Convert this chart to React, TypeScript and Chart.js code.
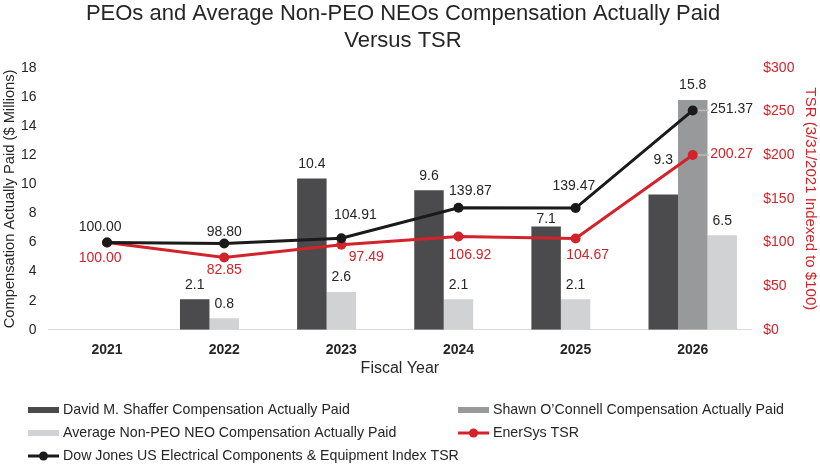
import React, { useEffect, useRef } from 'react';
import { Chart, registerables } from 'chart.js';

Chart.register(...registerables);

// ---- data ----
const fiscalYears = ['2021', '2022', '2023', '2024', '2025', '2026'];
const shafferCap = [null, 2.1, 10.4, 9.6, 7.1, 9.3];
const oconnellCap = [null, null, null, null, null, 15.8];
const neoAverageCap = [null, 0.8, 2.6, 2.1, 2.1, 6.5];
const enersysTsr = [100.0, 82.85, 97.49, 106.92, 104.67, 200.27];
const dowJonesTsr = [100.0, 98.8, 104.91, 139.87, 139.47, 251.37];
const tsrTickPrefix = '$';
const chartTitle = ['PEOs and Average Non-PEO NEOs Compensation Actually Paid', 'Versus TSR'];

// ---- label placement (style only) ----
const shafferLabelShift = [0, 0, 0, 0, 7.5, -19.5];
const dowLabelShift: ([number, number] | null)[] = [[-7, -15], [0, -11], [14, -23.6], [12, -16.7], [-1.7, -21.7], null];
const enersysLabelShift: ([number, number] | null)[] = [[-7, 15.6], [0, 12.3], [25, 12.3], [11.5, 18.6], [12, 16.3], null];

const TEXT = '#262626';
const RED = '#d2232a';
const BLACK = '#1a1a1a';
const DARK = '#4b4b4d';
const MID = '#98999b';
const LIGHT = '#d1d2d4';
const FONT = "'Liberation Sans', Arial, sans-serif";

const legendEntries = [
  { label: 'David M. Shaffer Compensation Actually Paid', kind: 'bar', color: DARK },
  { label: 'Shawn O\u2019Connell Compensation Actually Paid', kind: 'bar', color: MID },
  { label: 'Average Non-PEO NEO Compensation Actually Paid', kind: 'bar', color: LIGHT },
  { label: 'EnerSys TSR', kind: 'line', color: RED },
  { label: 'Dow Jones US Electrical Components & Equipment Index TSR', kind: 'line', color: BLACK },
];

const titlePlugin = {
  id: 'customTitle',
  afterDraw(chart: any) {
    const ctx = chart.ctx;
    ctx.save();
    ctx.font = `22px ${FONT}`;
    ctx.fillStyle = TEXT;
    ctx.textAlign = 'center';
    ctx.textBaseline = 'middle';
    chartTitle.forEach((line, i) => {
      ctx.fillText(line, 403, 14.2 + i * 26.4);
    });
    ctx.restore();
  },
};

const valueLabels = {
  id: 'valueLabels',
  afterDatasetsDraw(chart: any) {
    const ctx = chart.ctx;
    ctx.save();
    ctx.font = `14px ${FONT}`;
    ctx.textBaseline = 'middle';
    chart.data.datasets.forEach((ds: any, di: number) => {
      const meta = chart.getDatasetMeta(di);
      meta.data.forEach((el: any, i: number) => {
        const v = ds.data[i];
        if (v === null || v === undefined) return;
        if (ds.type === 'line') {
          const shifts = ds.labelKey === 'dow' ? dowLabelShift : enersysLabelShift;
          const s = shifts[i];
          ctx.fillStyle = ds.labelColor;
          const txt = v.toFixed(2);
          if (s) {
            ctx.textAlign = 'center';
            ctx.fillText(txt, el.x + s[0], el.y + s[1]);
          } else {
            ctx.strokeStyle = '#bdbdbd';
            ctx.lineWidth = 1.5;
            ctx.beginPath();
            ctx.moveTo(el.x + 5, el.y);
            ctx.lineTo(el.x + 16, el.y);
            ctx.stroke();
            ctx.textAlign = 'left';
            ctx.fillText(txt, el.x + 17.5, el.y - 1);
          }
        } else {
          const dy = ds.labelKey === 'shaffer' ? shafferLabelShift[i] : 0;
          ctx.fillStyle = TEXT;
          ctx.textAlign = 'center';
          ctx.fillText(v.toFixed(1), el.x, el.y - 14.5 + dy);
        }
      });
    });
    ctx.restore();
  },
};

const customLegend = {
  id: 'customLegend',
  afterDraw(chart: any) {
    const ctx = chart.ctx;
    const cols = [28, 458];
    const rows = [410, 433, 456];
    ctx.save();
    ctx.font = `14.2px ${FONT}`;
    ctx.textBaseline = 'middle';
    ctx.textAlign = 'left';
    legendEntries.forEach((e, i) => {
      const x = cols[i % 2];
      const y = rows[Math.floor(i / 2)];
      if (e.kind === 'bar') {
        ctx.fillStyle = e.color;
        ctx.fillRect(x, y - 3, 31, 6);
      } else {
        ctx.strokeStyle = e.color;
        ctx.lineWidth = 3;
        ctx.beginPath();
        ctx.moveTo(x, y);
        ctx.lineTo(x + 31, y);
        ctx.stroke();
        ctx.fillStyle = e.color;
        ctx.beginPath();
        ctx.arc(x + 15.5, y, 4.5, 0, Math.PI * 2);
        ctx.fill();
      }
      ctx.fillStyle = TEXT;
      ctx.fillText(e.label, x + 35, y);
    });
    ctx.restore();
  },
};

export default function App() {
  const ref = useRef<HTMLCanvasElement | null>(null);

  useEffect(() => {
    document.body.style.margin = '0';
    Chart.defaults.font.family = FONT;
    const neoMiddle = neoAverageCap.map((v, i) => (oconnellCap[i] === null ? v : null));
    const neoRight = neoAverageCap.map((v, i) => (oconnellCap[i] !== null ? v : null));
    const barCommon = {
      type: 'bar' as const,
      yAxisID: 'y',
      categoryPercentage: 0.755,
      barPercentage: 1.0,
      order: 3,
    };
    const chart = new Chart(ref.current as HTMLCanvasElement, {
      type: 'bar',
      data: {
        labels: fiscalYears,
        datasets: [
          {
            ...barCommon,
            label: 'David M. Shaffer Compensation Actually Paid',
            data: shafferCap,
            backgroundColor: DARK,
            stack: 'slotA',
            labelKey: 'shaffer',
          } as any,
          {
            ...barCommon,
            label: 'Shawn O\u2019Connell Compensation Actually Paid',
            data: oconnellCap,
            backgroundColor: MID,
            stack: 'slotB',
          } as any,
          {
            ...barCommon,
            label: 'Average Non-PEO NEO Compensation Actually Paid',
            data: neoMiddle,
            backgroundColor: LIGHT,
            stack: 'slotB',
          } as any,
          {
            ...barCommon,
            label: 'Average Non-PEO NEO Compensation Actually Paid (2026)',
            data: neoRight,
            backgroundColor: LIGHT,
            stack: 'slotC',
          } as any,
          {
            type: 'line',
            label: 'EnerSys TSR',
            data: enersysTsr,
            yAxisID: 'y1',
            borderColor: RED,
            backgroundColor: RED,
            borderWidth: 3,
            pointRadius: 5,
            pointBackgroundColor: RED,
            pointBorderWidth: 0,
            tension: 0,
            order: 2,
            labelKey: 'enersys',
            labelColor: RED,
          } as any,
          {
            type: 'line',
            label: 'Dow Jones US Electrical Components & Equipment Index TSR',
            data: dowJonesTsr,
            yAxisID: 'y1',
            borderColor: BLACK,
            backgroundColor: BLACK,
            borderWidth: 3,
            pointRadius: 5,
            pointBackgroundColor: BLACK,
            pointBorderWidth: 0,
            tension: 0,
            order: 1,
            labelKey: 'dow',
            labelColor: TEXT,
          } as any,
        ],
      },
      options: {
        responsive: false,
        animation: false,
        layout: { padding: { left: 0, right: 0, top: 68, bottom: 88.2 } },
        plugins: {
          legend: { display: false },
          tooltip: { enabled: false },
          title: { display: false },
        },
        scales: {
          x: {
            type: 'category',
            offset: true,
            grid: { display: false, drawTicks: false },
            border: { display: true, color: '#d9d9d9', width: 1 },
            ticks: { padding: 11.5, color: TEXT, font: { size: 14, weight: 'bold' } },
            title: {
              display: true,
              text: 'Fiscal Year',
              color: TEXT,
              font: { size: 16 },
              padding: { top: 2, bottom: -1.5 },
            },
            afterFit: (s: any) => {
              s.height = 47;
            },
          },
          y: {
            position: 'left',
            min: 0,
            max: 18,
            stacked: false,
            grid: { display: false, drawTicks: false },
            border: { display: false },
            ticks: { stepSize: 2, padding: 12, color: TEXT, font: { size: 14 } },
            title: {
              display: true,
              text: 'Compensation Actually Paid ($ Millions)',
              color: TEXT,
              font: { size: 14.7 },
              padding: { top: 1, bottom: 0 },
            },
            afterFit: (s: any) => {
              s.width = 48.5;
            },
          },
          y1: {
            position: 'right',
            min: 0,
            max: 300,
            stacked: false,
            grid: { display: false, drawTicks: false },
            border: { display: false },
            ticks: {
              stepSize: 50,
              padding: 12,
              color: RED,
              font: { size: 14 },
              callback: (v: any) => tsrTickPrefix + v,
            },
            title: {
              display: true,
              text: 'TSR (3/31/2021 Indexed to $100)',
              color: RED,
              font: { size: 15 },
              padding: { top: 1, bottom: 0 },
            },
            afterFit: (s: any) => {
              s.width = 68.7;
            },
          },
        },
      } as any,
      plugins: [valueLabels, customLegend, titlePlugin],
    });
    return () => chart.destroy();
  }, []);

  return (
    <div style={{ width: 820, height: 465 }}>
      <canvas ref={ref} width={820} height={465} style={{ display: 'block' }} />
    </div>
  );
}
